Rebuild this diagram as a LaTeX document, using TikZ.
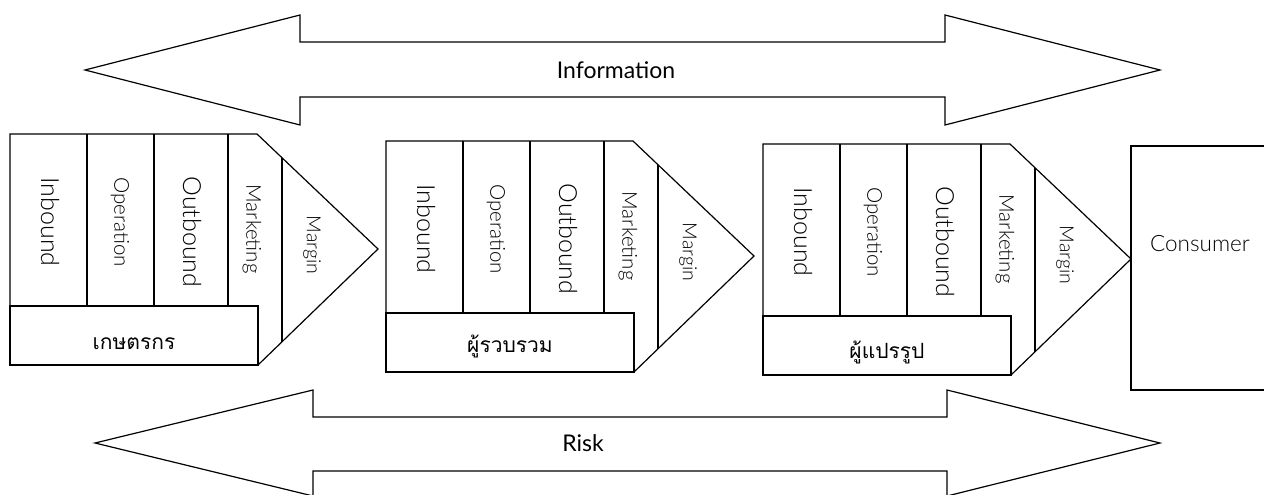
\documentclass[tikz,border=0pt]{standalone}
\usepackage{fontspec}
\setmainfont{Lato}
\newfontfamily\lightfont{Lato Light}
\newfontfamily\thaifont[Script=Thai]{Loma}
\begin{document}
\begin{tikzpicture}[x=1pt, y=-1pt, line width=1.2pt,
  bigtxt/.style={rotate=-90, font=\lightfont\fontsize{25}{29}\selectfont},
  smalltxt/.style={rotate=-90, font=\lightfont\fontsize{20.5}{24}\selectfont},
  margintxt/.style={rotate=-90, font=\lightfont\fontsize{19.5}{23}\selectfont},
  flowtxt/.style={font=\fontsize{23}{27}\selectfont},
  whotxt/.style={font=\thaifont\fontsize{21}{25}\selectfont},
  colline/.style={line width=2pt}]
\useasboundingbox (0,0) rectangle (1264,495);
% information, both ways
\draw (85,70) -- (300,15) -- (300,42) -- (945,42) -- (945,15) -- (1160,70)
  -- (945,125) -- (945,97) -- (300,97) -- (300,125) -- cycle;
\node[flowtxt] (info) at (616,70) {Information};
% risk, both ways
\draw (95,443) -- (313,390) -- (313,417) -- (947,417) -- (947,390) -- (1160,443)
  -- (947,496) -- (947,471) -- (313,471) -- (313,496) -- cycle;
\node[flowtxt] (risk) at (583,443) {Risk};
% chain 1
\begin{scope}[shift={(10,134)}]
\draw (0,0) -- (247,0) -- (368,115) -- (248,231) -- (0,231) -- cycle;
\draw (0,172) rectangle (248,231);
\draw (77,0) -- (77,172);
\draw[colline] (144,0) -- (144,172);
\draw[colline] (218,0) -- (218,172);
\draw (272,24) -- (272,208);
\node[bigtxt] (inb1) at (40,88) {Inbound};
\node[smalltxt] (ope1) at (110,88) {Operation};
\node[bigtxt] (outb1) at (182,98) {Outbound};
\node[smalltxt] (mkt1) at (242,95) {Marketing};
\node[margintxt] (mrg1) at (302,111) {Margin};
\node[whotxt] (who1) at (124,210) {เกษตรกร};
\end{scope}
% chain 2
\begin{scope}[shift={(386,141)}]
\draw (0,0) -- (247,0) -- (368,115) -- (248,231) -- (0,231) -- cycle;
\draw (0,172) rectangle (248,231);
\draw (77,0) -- (77,172);
\draw[colline] (144,0) -- (144,172);
\draw[colline] (218,0) -- (218,172);
\draw (272,24) -- (272,208);
\node[bigtxt] (inb2) at (40,88) {Inbound};
\node[smalltxt] (ope2) at (110,88) {Operation};
\node[bigtxt] (outb2) at (182,98) {Outbound};
\node[smalltxt] (mkt2) at (242,95) {Marketing};
\node[margintxt] (mrg2) at (302,111) {Margin};
\node[whotxt] (who2) at (124,205) {ผู้รวบรวม};
\end{scope}
% chain 3
\begin{scope}[shift={(763,144)}]
\draw (0,0) -- (247,0) -- (368,115) -- (248,231) -- (0,231) -- cycle;
\draw (0,172) rectangle (248,231);
\draw (77,0) -- (77,172);
\draw[colline] (144,0) -- (144,172);
\draw[colline] (218,0) -- (218,172);
\draw (272,24) -- (272,208);
\node[bigtxt] (inb3) at (40,88) {Inbound};
\node[smalltxt] (ope3) at (110,88) {Operation};
\node[bigtxt] (outb3) at (182,98) {Outbound};
\node[smalltxt] (mkt3) at (242,95) {Marketing};
\node[margintxt] (mrg3) at (302,111) {Margin};
\node[whotxt] (who3) at (124,208) {ผู้แปรรูป};
\end{scope}
% consumer
\draw (1264,146) -- (1131,146) -- (1131,390) -- (1264,390);
\node[font=\lightfont\fontsize{22.5}{26}\selectfont] (cons) at (1200,244) {Consumer};
\end{tikzpicture}
\end{document}
